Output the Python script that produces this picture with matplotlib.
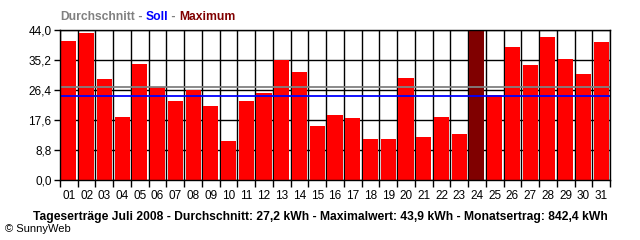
import matplotlib
matplotlib.use("Agg")
import matplotlib.pyplot as plt
import numpy as np

days = ["%02d" % d for d in range(1, 32)]
ertrag = [40.8, 43.1, 29.6, 18.5, 34.1, 27.3, 23.3, 26.5, 21.7, 11.4,
          23.3, 25.5, 35.2, 31.8, 15.9, 19.1, 18.2, 12.0, 12.0, 29.9,
          12.6, 18.5, 13.5, 43.9, 24.9, 39.0, 33.7, 41.9, 35.5, 31.1, 40.5]
durchschnitt = 27.2
soll = 24.5
y_ticks = [0.0, 8.8, 17.6, 26.4, 35.2, 44.0]

plt.rcParams['font.family'] = ['Liberation Sans', 'DejaVu Sans']

fig = plt.figure(figsize=(6.4, 2.4), dpi=100)
ax = fig.add_axes([60/640, 60/240, 550/640, 150/240])

x = np.arange(1, len(ertrag) + 1)
imax = int(np.argmax(ertrag))
colors = ['#FF0000'] * len(ertrag)
colors[imax] = '#800000'
ax.bar(x, ertrag, width=0.85, color=colors, zorder=2)

ax.axhline(durchschnitt, color='#808080', lw=1.3, zorder=3)
ax.axhline(soll, color='#0000FF', lw=1.3, zorder=3)

ax.set_xlim(0.5, len(ertrag) + 0.5)
ax.set_ylim(0, 44)
ax.set_yticks(y_ticks)
ax.set_yticklabels([("%.1f" % v).replace('.', ',') for v in y_ticks], fontsize=8.5)
ax.set_xticks(x)
ax.set_xticklabels(days, fontsize=8.5)
ax.set_xticks(np.arange(0.5, len(ertrag) + 1), minor=True)
ax.tick_params(axis='x', which='major', length=0, pad=7)
ax.tick_params(axis='x', which='minor', length=5, width=1, direction='out')
ax.tick_params(axis='y', length=4, width=1, pad=2)
ax.grid(True, which='minor', axis='x', color='black', lw=1, zorder=1)
ax.grid(True, which='major', axis='y', color='black', lw=1, zorder=1)
for s in ax.spines.values():
    s.set_linewidth(1)
    s.set_zorder(4)

# legend header, pieces placed one after the other
parts = [("Durchschnitt", '#808080'), (" - ", '#808080'), ("Soll", '#0000FF'),
         (" - ", '#808080'), ("Maximum", '#800000')]
renderer = fig.canvas.get_renderer()
xpos = 60
for txt, col in parts:
    t = fig.text(xpos/640, 1 - 17/240, txt, color=col, fontsize=8.7,
                 fontweight='bold', va='center')
    xpos += t.get_window_extent(renderer).width

fig.text(320/640, 1 - 217/240,
         "Tageserträge Juli 2008 - Durchschnitt: 27,2 kWh - Maximalwert: 43,9 kWh - Monatsertrag: 842,4 kWh",
         fontsize=8.7, fontweight='bold', ha='center', va='center')
fig.text(5/640, 1 - 229/240, "© SunnyWeb", fontsize=8, va='center')

fig.savefig("out.png", dpi=100)
